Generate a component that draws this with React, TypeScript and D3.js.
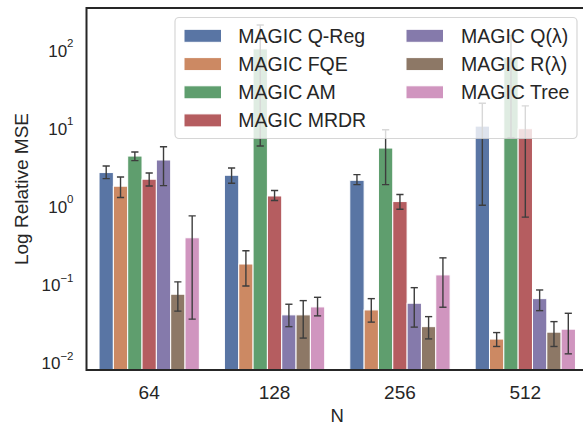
import React from "react";
import * as d3 from "d3";

const categories = ["64", "128", "256", "512"];
const seriesNames = [
  "MAGIC Q-Reg",
  "MAGIC FQE",
  "MAGIC AM",
  "MAGIC MRDR",
  "MAGIC Q(\u03bb)",
  "MAGIC R(\u03bb)",
  "MAGIC Tree",
];
const colors = ["#5975a4", "#cc8963", "#5f9e6e", "#b55d60", "#857aab", "#8d7866", "#d095bf"];

// mean values per series, per N
const qReg = [2.75, 2.54, 2.19, 10.8];
const fqe = [1.84, 0.186, 0.0481, 0.0204];
const am = [4.47, 105, 5.66, 82];
const mrdr = [2.26, 1.38, 1.17, 10.0];
const qLam = [3.98, 0.0416, 0.0586, 0.0671];
const rLam = [0.0764, 0.0416, 0.0294, 0.025];
const tree = [0.403, 0.0526, 0.135, 0.0273];

// error bar bounds
const qRegLo = [2.3, 2.01, 1.93, 1.05];
const qRegHi = [3.33, 3.14, 2.59, 21.2];
const fqeLo = [1.32, 0.0975, 0.0336, 0.0164];
const fqeHi = [2.41, 0.275, 0.0671, 0.0247];
const amLo = [3.91, 6.0, 1.93, 7.7];
const amHi = [5.03, 212, 9.71, 156];
const mrdrLo = [1.85, 1.21, 0.935, 0.739];
const mrdrHi = [2.71, 1.62, 1.44, 19.6];
const qLamLo = [1.87, 0.0294, 0.029, 0.0471];
const qLamHi = [5.89, 0.0569, 0.0927, 0.0866];
const rLamLo = [0.0464, 0.021, 0.0205, 0.0164];
const rLamHi = [0.11, 0.0633, 0.0395, 0.0341];
const treeLo = [0.0367, 0.0404, 0.0521, 0.0132];
const treeHi = [0.767, 0.0698, 0.223, 0.0436];

const yTicks = [-2, -1, 0, 1, 2];

const means = [qReg, fqe, am, mrdr, qLam, rLam, tree];
const lows = [qRegLo, fqeLo, amLo, mrdrLo, qLamLo, rLamLo, treeLo];
const highs = [qRegHi, fqeHi, amHi, mrdrHi, qLamHi, rLamHi, treeHi];

const W = 583;
const H = 425;
const left = 86.5;
const right = 588;
const top = 8;
const bottom = 370;
const FONT = "'Liberation Sans', Arial, sans-serif";
const TXT = "#262626";

export default function App() {
  const x = d3
    .scaleBand<string>()
    .domain(categories)
    .range([left, right])
    .paddingInner(0.2)
    .paddingOuter(0.1);
  const xi = d3
    .scaleBand<string>()
    .domain(seriesNames)
    .range([0, x.bandwidth()]);
  const y = d3
    .scaleLog()
    .domain([Math.pow(10, -2.086), Math.pow(10, 2.544)])
    .range([bottom, top]);

  const bars: JSX.Element[] = [];
  const errs: JSX.Element[] = [];
  seriesNames.forEach((s, si) => {
    categories.forEach((c, ci) => {
      const x0 = (x(c) as number) + (xi(s) as number);
      const bw = xi.bandwidth();
      const yt = y(means[si][ci]);
      bars.push(
        <rect
          key={`b${si}-${ci}`}
          x={x0}
          y={yt}
          width={bw}
          height={bottom - yt}
          fill={colors[si]}
          stroke="#ffffff"
          strokeWidth={1}
        />
      );
      const cx = x0 + bw / 2;
      const yl = y(lows[si][ci]);
      const yh = y(highs[si][ci]);
      errs.push(
        <g key={`e${si}-${ci}`} stroke="#3d3d3d" strokeWidth={1.4}>
          <line x1={cx} x2={cx} y1={yl} y2={yh} />
          <line x1={cx - 3.6} x2={cx + 3.6} y1={yl} y2={yl} />
          <line x1={cx - 3.6} x2={cx + 3.6} y1={yh} y2={yh} />
        </g>
      );
    });
  });

  const legendRows = [35.8, 64.1, 92.3, 120.4];
  const legCols = [
    { px: 184, tx: 238.3 },
    { px: 406, tx: 461 },
  ];

  return (
    <svg
      width={W}
      height={H}
      style={{ position: "absolute", left: 0, top: 0, background: "#fff" }}
      fontFamily={FONT}
    >
      <rect x={0} y={0} width={W} height={H} fill="#ffffff" />
      <defs>
        <clipPath id="plotclip">
          <rect x={left} y={top} width={right - left} height={bottom - top} />
        </clipPath>
      </defs>
      <g clipPath="url(#plotclip)">
        {bars}
        {errs}
      </g>
      {/* frame */}
      <rect
        x={left}
        y={top}
        width={right - left}
        height={bottom - top}
        fill="none"
        stroke="#262626"
        strokeWidth={2}
      />
      {/* y ticks */}
      {yTicks.map((e) => {
        const ty = y(Math.pow(10, e));
        return (
          <text key={`yt${e}`} x={73.5} y={ty + 6} textAnchor="end" fill={TXT} fontSize={17}>
            10
            <tspan fontSize={11.5} dy={-9.5}>
              {e < 0 ? `\u2212${-e}` : `${e}`}
            </tspan>
          </text>
        );
      })}
      {/* x ticks */}
      {categories.map((c) => (
        <text
          key={`xt${c}`}
          x={(x(c) as number) + x.bandwidth() / 2}
          y={399}
          textAnchor="middle"
          fill={TXT}
          fontSize={19}
        >
          {c}
        </text>
      ))}
      <text x={(left + right) / 2} y={421.5} textAnchor="middle" fill={TXT} fontSize={18.5}>
        N
      </text>
      <text
        transform={`translate(27.5, ${(top + bottom) / 2}) rotate(-90)`}
        textAnchor="middle"
        fill={TXT}
        fontSize={19}
      >
        Log Relative MSE
      </text>
      {/* legend */}
      <rect
        x={175}
        y={17.5}
        width={402}
        height={121}
        rx={4}
        ry={4}
        fill="#ffffff"
        fillOpacity={0.8}
        stroke="#cccccc"
        strokeOpacity={0.8}
        strokeWidth={1.2}
      />
      {seriesNames.map((s, i) => {
        const col = i < 4 ? 0 : 1;
        const row = i < 4 ? i : i - 4;
        const cy = legendRows[row];
        return (
          <g key={`lg${i}`}>
            <rect
              x={legCols[col].px}
              y={cy - 6.5}
              width={37.5}
              height={13}
              fill={colors[i]}
              stroke="#ffffff"
              strokeWidth={1}
            />
            <text x={legCols[col].tx} y={cy + 6.9} fill={TXT} fontSize={19.5}>
              {s}
            </text>
          </g>
        );
      })}
    </svg>
  );
}
